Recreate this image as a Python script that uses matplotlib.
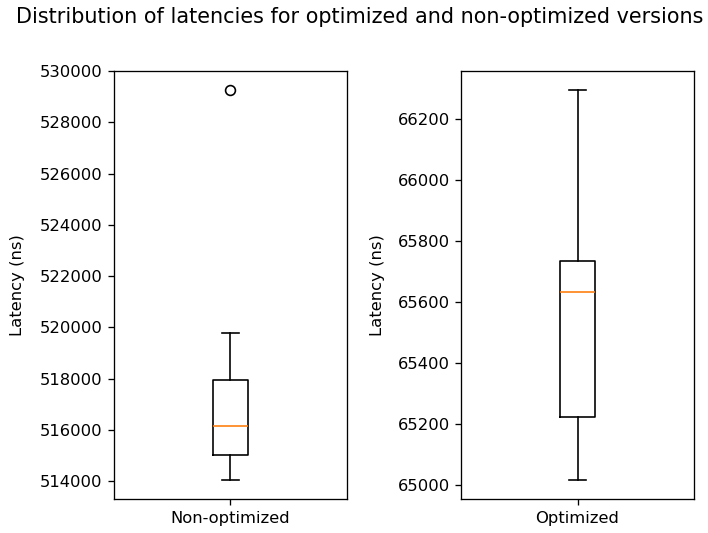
import matplotlib

matplotlib.use("Agg")

import matplotlib.pyplot as plt

# Box statistics (latency in ns)
labels = ["Non-optimized", "Optimized"]
whisker_low = [514050, 65017]
quartile_1 = [515020, 65224]
medians = [516155, 65633]
quartile_3 = [517950, 65736]
whisker_high = [519770, 66295]
fliers = [[529253], []]

fig = plt.figure(figsize=(6, 533 / 118), dpi=118)
axes = [
    fig.add_axes([114 / 708, 0.0632, 233 / 708, 0.8042]),
    fig.add_axes([461.3 / 708, 0.0632, 232.4 / 708, 0.8042]),
]
# right edge of the rotated y-label, in axes fraction
label_x = [-0.382, -0.328]

for i, ax in enumerate(axes):
    stats = [{
        "label": labels[i],
        "whislo": whisker_low[i],
        "q1": quartile_1[i],
        "med": medians[i],
        "q3": quartile_3[i],
        "whishi": whisker_high[i],
        "fliers": fliers[i],
    }]
    ax.bxp(stats)
    ax.set_ylabel("Latency (ns)")
    ax.yaxis.set_label_coords(label_x[i], 0.5)
    ax.ticklabel_format(axis="y", style="plain", useOffset=False)

fig.suptitle("Distribution of latencies for optimized and non-optimized versions",
             x=0.508, y=1 - 23.3 / 533, va="baseline", fontsize=12.7)

fig.savefig("out.png", dpi=118)
